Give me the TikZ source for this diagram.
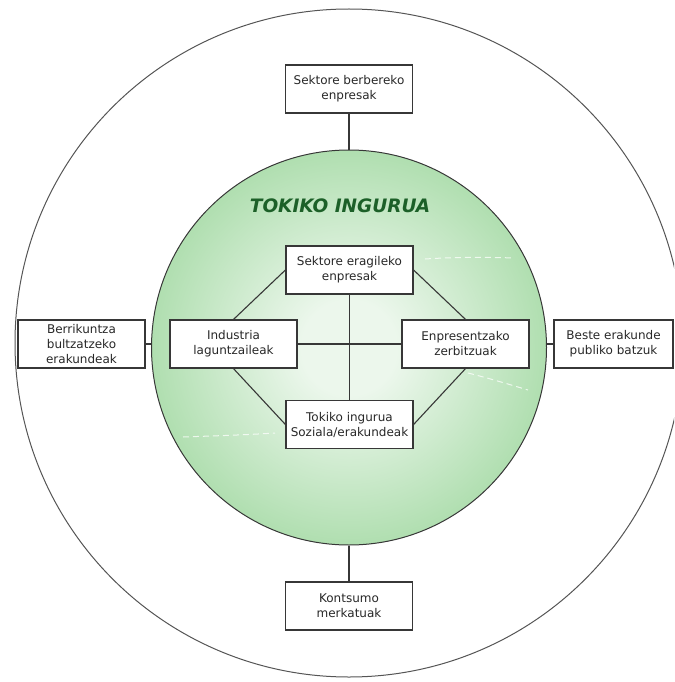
\documentclass[tikz,border=0pt]{standalone}
\usepackage{fontspec}
\setmainfont{DejaVu Sans}
\definecolor{gEdge}{RGB}{108,190,108}
\definecolor{gMid}{RGB}{160,216,160}
\definecolor{gCenter}{RGB}{236,247,236}
\definecolor{titleGreen}{RGB}{28,96,40}
\definecolor{txt}{RGB}{40,40,40}
\definecolor{frame}{RGB}{55,55,55}
\pgfdeclareradialshading{greenball}{\pgfpoint{0bp}{0bp}}{color(0bp)=(gCenter); color(6bp)=(gCenter); color(30bp)=(gMid); color(50bp)=(gEdge)}
\tikzset{
  boxnode/.style={draw=frame, line width=1.2pt, fill=white, text=txt, align=center,
    font=\fontsize{12}{15}\selectfont, inner sep=0pt, minimum width=127pt, minimum height=48pt},
  link/.style={draw=frame, line width=1.1pt},
  deco/.style={draw=white, dashed, dash pattern=on 6pt off 4pt, line width=1pt, opacity=0.75}
}
\begin{document}
\begin{tikzpicture}[x=1pt,y=-1pt]
\useasboundingbox (0,0) rectangle (674,682);
\begin{scope}
\clip (0,0) rectangle (674,682);
% outer circle
\node[circle, draw=frame!85, line width=1pt, minimum size=668pt, inner sep=0pt] (outer) at (349,343) {};
% green circle
\node[circle, draw=frame, line width=1pt, shading=greenball, minimum size=395pt, inner sep=0pt] (green) at (349,347.5) {};
% decorative faint dashes
\draw[deco] (425,259) .. controls (455,257) and (485,257) .. (514,258);
\draw[deco] (468,373) .. controls (488,378) and (508,384) .. (528,390);
\draw[deco] (183,437) .. controls (210,436) and (245,435) .. (275,433);
% title
\node[text=titleGreen, font=\fontsize{18.5}{20}\bfseries\itshape\selectfont] (title) at (340,206) {TOKIKO INGURUA};
% inner boxes
\node[boxnode] (itop) at (349.5,270) {Sektore eragileko\\enpresak};
\node[boxnode] (ibot) at (349.5,424.5) {Tokiko ingurua\\Soziala/erakundeak};
\node[boxnode] (ileft) at (233.5,344) {Industria\\laguntzaileak};
\node[boxnode] (iright) at (465.5,344) {Enpresentzako\\zerbitzuak};
% outer boxes
\node[boxnode] (otop) at (349,89) {Sektore berbereko\\enpresak};
\node[boxnode] (obot) at (349,606) {Kontsumo\\merkatuak};
\node[boxnode] (oleft) at (81.5,344) {Berrikuntza\\bultzatzeko\\erakundeak};
\node[boxnode, minimum width=119pt] (oright) at (613.5,344) {Beste erakunde\\publiko batzuk};
% connectors
\draw[link] (itop.south) -- (ibot.north);
\draw[link] (ileft.east) -- (iright.west);
\draw[link] (ileft.north) -- (itop.west);
\draw[link] (itop.east) -- (iright.north);
\draw[link] (ileft.south) -- (ibot.west);
\draw[link] (ibot.east) -- (iright.south);
\draw[link] (otop.south) -- (green.north);
\draw[link] (green.south) -- (obot.north);
\draw[link] (oleft.east) -- (oleft.east -| green.west);
\draw[link] (oright.west -| green.east) -- (oright.west);
\end{scope}
\end{tikzpicture}
\end{document}
